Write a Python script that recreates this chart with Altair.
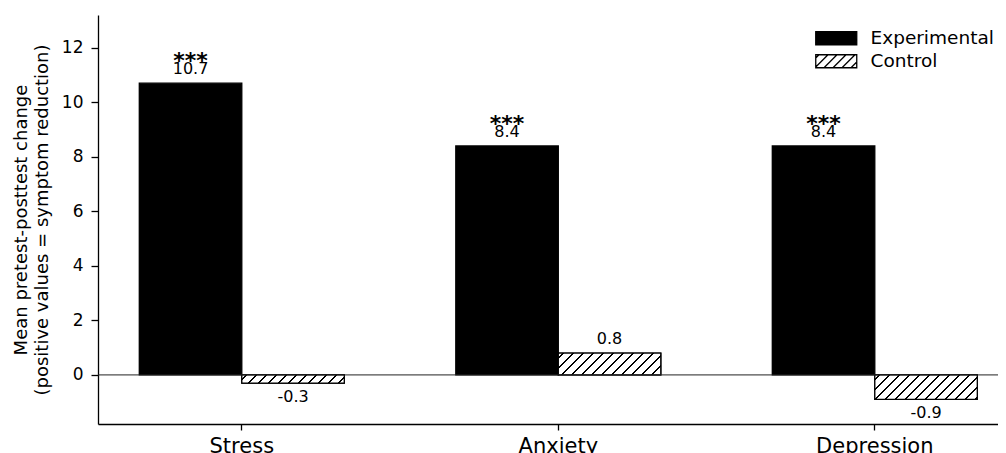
import altair as alt
import pandas as pd

# ---------------- data ----------------
categories = ["Stress", "Anxiety", "Depression"]
groups = ["Experimental", "Control"]
experimental = [10.7, 8.4, 8.4]
control = [-0.3, 0.8, -0.9]
significance = ["***", "***", "***"]
y_ticks = [0, 2, 4, 6, 8, 10, 12]
y_title = ["Mean pretest-posttest change", "(positive values = symptom reduction)"]

rows = []
for i, c in enumerate(categories):
    rows.append(dict(category=c, group="Experimental", value=experimental[i],
                     label=f"{experimental[i]:.1f}", stars=significance[i]))
    rows.append(dict(category=c, group="Control", value=control[i],
                     label=f"{control[i]:.1f}", stars=""))
df = pd.DataFrame(rows)

# ---------------- layout / style ----------------
W, H = 900, 409
Y_MIN, Y_MAX = -1.8, 13.2
STEP = 316.5
BAND = 205.0
N = len(categories)
PI = 1 - BAND / STEP
PO = (W / STEP - (N - PI)) / 2
ALIGN = 41.3 / (W - STEP * (N - PI))
FONT = "DejaVu Sans"
PX_PER_UNIT = H / (Y_MAX - Y_MIN)
BAR_W = BAND / 2
SYM_H, SYM_W = 13.0, 41.0


def hatch_fill(h, w, spacing=10.0, lw=2.0):
    span = w + h
    d = w + h * h / w
    c = span / d
    p = spacing / span
    t = lw / span
    stops = [{"offset": 0, "color": "white"}]
    a = 0.4 * p
    while a < 1:
        b = min(a + t, 1)
        stops += [{"offset": a, "color": "white"}, {"offset": a, "color": "black"},
                  {"offset": b, "color": "black"}, {"offset": b, "color": "white"}]
        a += p
    stops.append({"offset": 1, "color": "white"})
    return {"gradient": "linear", "x1": 0, "y1": 0, "x2": c, "y2": c * h / w, "stops": stops}


def legend_symbol(spacing_px=9.0):
    # unit: half of the symbol height (sqrt(size) = SYM_H)
    hw = SYM_W / SYM_H
    hh = 1.0
    sp = spacing_px / (SYM_H / 2)
    parts = [f"M{-hw:.4f},-1L{hw:.4f},-1L{hw:.4f},1L{-hw:.4f},1Z"]
    x0 = -hw - 2 * hh + 0.5
    while x0 < hw:
        xs = max(x0, -hw)
        xe = min(x0 + 2 * hh, hw)
        if xe > xs:
            ys = hh - (xs - x0)
            ye = hh - (xe - x0)
            parts.append(f"M{xs:.4f},{ys:.4f}L{xe:.4f},{ye:.4f}")
        x0 += sp
    return "".join(parts)


x_enc = alt.X(
    "category:N", sort=categories,
    scale=alt.Scale(paddingInner=PI, paddingOuter=PO, align=ALIGN),
    axis=alt.Axis(title=None, labelAngle=0, labelFontSize=21, tickSize=6,
                  labelPadding=5, domainWidth=1.3, tickWidth=1.3),
)
xoff_enc = alt.XOffset("group:N", sort=groups,
                       scale=alt.Scale(paddingInner=0, paddingOuter=0))
y_enc = alt.Y(
    "value:Q",
    scale=alt.Scale(domain=[Y_MIN, Y_MAX], nice=False),
    axis=alt.Axis(values=y_ticks, title=y_title, labelFontSize=17, tickSize=7,
                  labelPadding=8, titleFontSize=18, titleFontWeight="normal",
                  titleLineHeight=21, titlePadding=10, domainWidth=1.3, tickWidth=1.3),
)

base = alt.Chart(df)

bars = base.mark_bar(stroke="black", strokeWidth=1.3).encode(
    x=x_enc, xOffset=xoff_enc, y=y_enc,
    fill=alt.Fill("group:N", sort=groups,
                  scale=alt.Scale(domain=groups, range=["black", "white"]),
                  legend=alt.Legend(title=None, orient="none", legendX=729, legendY=14,
                                    symbolType=legend_symbol(), symbolSize=SYM_H * SYM_H,
                                    symbolStrokeColor="black", symbolStrokeWidth=1.3,
                                    labelFontSize=18.5, labelColor="black", labelOffset=25,
                                    rowPadding=4)),
)

layers = [bars]
for i, c in enumerate(categories):
    h = abs(control[i]) * PX_PER_UNIT
    layers.append(
        base.transform_filter(
            (alt.datum.group == "Control") & (alt.datum.category == c)
        ).mark_bar(fill=hatch_fill(h, BAR_W), stroke="black", strokeWidth=1.3).encode(
            x=x_enc, xOffset=xoff_enc, y=y_enc)
    )

zero = alt.Chart(pd.DataFrame({"zero": [0]})).mark_rule(color="#222", strokeWidth=1).encode(
    y="zero:Q")

pos_labels = base.transform_filter(alt.datum.value >= 0).mark_text(
    fontSize=16, baseline="alphabetic", dy=-9, color="black").encode(
    x=x_enc, xOffset=xoff_enc, y=y_enc, text="label:N")
neg_labels = base.transform_filter(alt.datum.value < 0).mark_text(
    fontSize=16, baseline="top", dy=6, color="black").encode(
    x=x_enc, xOffset=xoff_enc, y=y_enc, text="label:N")
stars = base.transform_filter(alt.datum.stars != "").mark_text(
    fontSize=22, fontWeight="bold", baseline="alphabetic", dy=-15, color="black").encode(
    x=x_enc, xOffset=xoff_enc, y=y_enc, text="stars:N")

layers += [zero, pos_labels, neg_labels, stars]

chart = alt.layer(*layers).properties(
    width=W, height=H,
    autosize=alt.AutoSizeParams(type="none"),
    padding={"left": 90, "top": 7, "right": 0, "bottom": 30},
).configure(font=FONT).configure_view(stroke=None).configure_axis(
    grid=False, domainColor="black", tickColor="black", labelColor="black",
    titleColor="black", labelFont=FONT, titleFont=FONT,
)

chart.save("out.html", embed_options={"renderer": "svg", "actions": False})
